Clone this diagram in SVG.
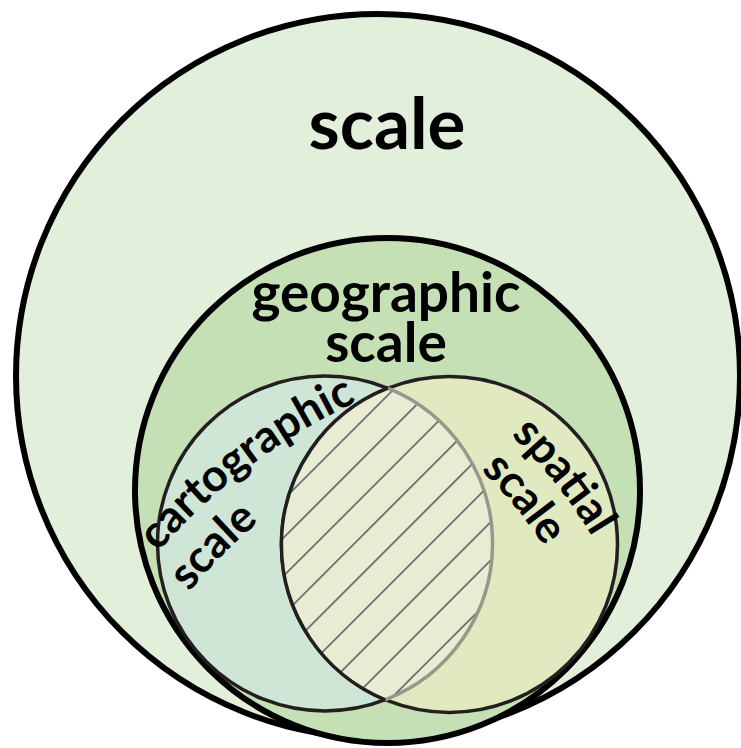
<svg xmlns="http://www.w3.org/2000/svg" width="741" height="748" viewBox="0 0 741 748">
<style>
.lbl{font-family:Lato,"Liberation Sans",sans-serif;font-weight:bold;fill:#000}
.big{stroke:#000;stroke-width:6}
.inner{stroke:#231f20;stroke-width:3.5}
.hatch{stroke:#6d6e71;stroke-width:1.8}
</style>
<defs>
<clipPath id="lensClip"><path d="M387.8,388.2 A168,168 0 0 0 385.3,699.8 A167.5,167.5 0 0 0 387.8,388.2 Z"/></clipPath>
<path id="pCarto1" d="M158,552 A600,600 0 0 1 498.5,355.8"/>
<path id="pCarto2" d="M189,592 A551.5,551.5 0 0 1 336.8,467.1"/>
<path id="pSpat1" d="M511,435 A500,500 0 0 1 635.4,628.1"/>
<path id="pSpat2" d="M481,470 A454.5,454.5 0 0 1 574.7,600.6"/>
</defs>
<rect width="741" height="748" fill="#ffffff"/>
<g id="scale">
<circle class="big" cx="378" cy="376" r="362" fill="#e2efda"/>
<text class="lbl" x="387" y="149" font-size="71" text-anchor="middle">scale</text>
</g>
<g id="geographic-scale">
<circle class="big" cx="387.5" cy="490.5" r="252.5" fill="#c5e0b4"/>
<text class="lbl" x="386" y="312" font-size="55" text-anchor="middle">geographic</text>
<text class="lbl" x="386" y="362" font-size="55" text-anchor="middle">scale</text>
</g>
<g id="cartographic-scale">
<circle class="inner" cx="325" cy="543.5" r="167.5" fill="#cfe5d6"/>
</g>
<g id="spatial-scale">
<circle class="inner" cx="449.5" cy="544.5" r="168" fill="#e1e9c1"/>
</g>
<g id="overlap">
<path d="M387.8,388.2 A168,168 0 0 0 385.3,699.8 A167.5,167.5 0 0 0 387.8,388.2 Z" fill="#e7ecd3"/>
<g clip-path="url(#lensClip)">
<line class="hatch" x1="63" y1="720" x2="423" y2="360"/>
<line class="hatch" x1="101.3" y1="720" x2="461.3" y2="360"/>
<line class="hatch" x1="139.6" y1="720" x2="499.6" y2="360"/>
<line class="hatch" x1="177.9" y1="720" x2="537.9" y2="360"/>
<line class="hatch" x1="216.2" y1="720" x2="576.2" y2="360"/>
<line class="hatch" x1="254.5" y1="720" x2="614.5" y2="360"/>
<line class="hatch" x1="292.8" y1="720" x2="652.8" y2="360"/>
<line class="hatch" x1="331.1" y1="720" x2="691.1" y2="360"/>
<line class="hatch" x1="369.4" y1="720" x2="729.4" y2="360"/>
</g>
<path d="M385.3,699.8 A167.5,167.5 0 0 0 387.8,388.2" fill="none" stroke="#9b958a" stroke-width="3.5"/>
<path d="M387.8,388.2 A168,168 0 0 0 385.3,699.8" fill="none" stroke="#231f20" stroke-width="3.5"/>
</g>
<g id="labels-inner">
<text class="lbl" font-size="45"><textPath href="#pCarto1">cartographic</textPath></text>
<text class="lbl" font-size="45"><textPath href="#pCarto2">scale</textPath></text>
<text class="lbl" font-size="45"><textPath href="#pSpat1">spatial</textPath></text>
<text class="lbl" font-size="45"><textPath href="#pSpat2">scale</textPath></text>
</g>
<g id="connectors"></g>
</svg>
